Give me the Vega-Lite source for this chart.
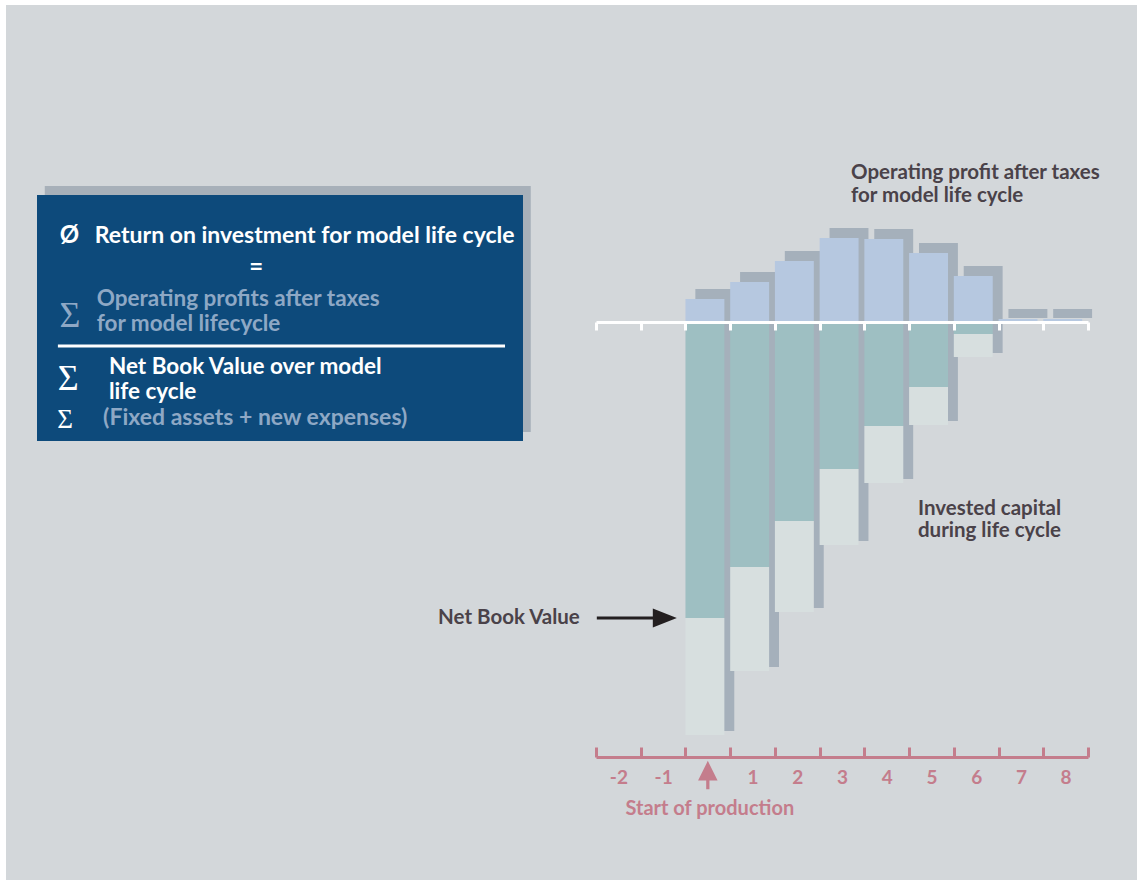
{
"$schema": "https://vega.github.io/schema/vega-lite/v6.json",
"width": 1131, "height": 875,
"autosize": {"type": "none"},
"padding": {"left": 6, "top": 5, "right": 5, "bottom": 3},
"background": "#ffffff",
"view": {"fill": "#d3d7da", "stroke": null},
"config": {"font": "Lato"},
"layer": [
 {
  "data": {"values": [
    {"year": "0", "profit": 2.3, "nbv": -29.6, "gross": -41.3},
    {"year": "1", "profit": 4.0, "nbv": -24.5, "gross": -34.9},
    {"year": "2", "profit": 6.1, "nbv": -19.9, "gross": -29.0},
    {"year": "3", "profit": 8.4, "nbv": -14.7, "gross": -22.3},
    {"year": "4", "profit": 8.3, "nbv": -10.4, "gross": -16.1},
    {"year": "5", "profit": 6.9, "nbv": -6.5, "gross": -10.3},
    {"year": "6", "profit": 4.6, "nbv": -1.2, "gross": -3.5},
    {"year": "7", "profit": 0.3, "nbv": 0, "gross": 0},
    {"year": "8", "profit": 0.3, "nbv": 0, "gross": 0}
  ]},
  "layer": [
   {"mark": {"type": "bar", "fill": "#a5b0bb", "width": {"band": 0.87}, "xOffset": 7, "yOffset": -10, "y2Offset": -4},
    "encoding": {
      "x": {"field": "year", "type": "ordinal", "axis": null,
            "scale": {"domain": ["-2","-1","0","1","2","3","4","5","6","7","8"], "range": [590, 1082], "paddingInner": 0, "paddingOuter": 0}},
      "y": {"field": "profit", "type": "quantitative", "axis": null,
            "scale": {"domain": [-55.8, 31.7], "nice": false, "zero": false}},
      "y2": {"field": "gross"}}},
   {"mark": {"type": "bar", "fill": "#d7dfdf", "width": {"band": 0.87}, "xOffset": -2.9},
    "encoding": {
      "x": {"field": "year", "type": "ordinal",
            "axis": {"orient": "bottom", "offset": -123, "domainColor": "#c47d8c", "domainWidth": 3, "ticks": false, "tickBand": "extent",
                     "labelColor": "#c47d8c", "labelFont": "Lato", "labelFontSize": 19, "labelFontWeight": "bold", "labelPadding": 11, "labelAngle": 0,
                     "labelExpr": "datum.value === '0' ? '' : datum.label", "title": null, "zindex": 1}},
      "y": {"field": "nbv", "type": "quantitative", "axis": null},
      "y2": {"field": "gross"}}},
   {"mark": {"type": "bar", "fill": "#9ebfc2", "width": {"band": 0.87}, "xOffset": -2.9},
    "encoding": {
      "x": {"field": "year", "type": "ordinal",
            "axis": {"orient": "top", "offset": -752, "domain": false, "labels": false, "ticks": true, "tickBand": "extent",
                     "tickColor": "#c47d8c", "tickWidth": 3, "tickSize": 10, "title": null, "zindex": 1}},
      "y": {"field": "nbv", "type": "quantitative", "axis": null},
      "y2": {"datum": 0}}},
   {"mark": {"type": "bar", "fill": "#b6c8e0", "width": {"band": 0.87}, "xOffset": -2.9},
    "encoding": {
      "x": {"field": "year", "type": "ordinal",
            "axis": {"orient": "bottom", "offset": -558, "domainColor": "#ffffff", "domainWidth": 3, "tickColor": "#ffffff", "tickWidth": 3,
                     "tickSize": 8, "tickBand": "extent", "labels": false, "title": null, "zindex": 2}},
      "y": {"field": "profit", "type": "quantitative", "axis": null},
      "y2": {"datum": 0}}},
   {"transform": [{"filter": "datum.year === '0'"}],
    "mark": {"type": "point", "shape": "M-1,-0.04 L0.4,-0.04 L0.4,-0.24 L1,0 L0.4,0.24 L0.4,0.04 L-1,0.04 Z", "size": 6400,
             "filled": true, "fill": "#231f20", "opacity": 1, "strokeWidth": 0, "xOffset": -71},
    "encoding": {"x": {"field": "year", "type": "ordinal", "axis": null}, "y": {"field": "nbv", "type": "quantitative", "axis": null}}},
   {"transform": [{"filter": "datum.year === '0'"}],
    "mark": {"type": "text", "text": "Net Book Value", "align": "right", "baseline": "middle", "dx": -128, "fontSize": 20.5, "fontWeight": "bold", "fill": "#4a4249"},
    "encoding": {"x": {"field": "year", "type": "ordinal", "axis": null}, "y": {"field": "nbv", "type": "quantitative", "axis": null}}},
   {"data": {"values": [{"note": "Operating profit after taxes\nfor model life cycle", "year": "3"}]},
    "mark": {"type": "text", "align": "left", "baseline": "alphabetic", "dx": 9, "fontSize": 20.5, "fontWeight": "bold", "fill": "#4a4249", "lineBreak": "\n", "lineHeight": 23},
    "encoding": {"x": {"field": "year", "type": "ordinal", "axis": null}, "y": {"datum": 14.3, "type": "quantitative", "axis": null}, "text": {"field": "note"}}},
   {"data": {"values": [{"note": "Invested capital\nduring life cycle", "year": "5"}]},
    "mark": {"type": "text", "align": "left", "baseline": "alphabetic", "dx": -13.5, "fontSize": 20.5, "fontWeight": "bold", "fill": "#4a4249", "lineBreak": "\n", "lineHeight": 22},
    "encoding": {"x": {"field": "year", "type": "ordinal", "axis": null}, "y": {"datum": -19.3, "type": "quantitative", "axis": null}, "text": {"field": "note"}}},
   {"data": {"values": [{"event": "Start of production", "year": "0"}]},
    "mark": {"type": "point", "shape": "M0,-1 L0.69,0.385 L0.115,0.385 L0.115,1 L-0.115,1 L-0.115,0.385 L-0.69,0.385 Z", "size": 800,
             "filled": true, "fill": "#c47d8c", "opacity": 1, "strokeWidth": 0},
    "encoding": {"x": {"field": "year", "type": "ordinal", "axis": null}, "y": {"datum": -45.3, "type": "quantitative", "axis": null}}},
   {"data": {"values": [{"event": "Start of production", "year": "0"}]},
    "mark": {"type": "text", "align": "center", "baseline": "middle", "dx": 2, "fontSize": 20, "fontWeight": "bold", "fill": "#c47d8c"},
    "encoding": {"x": {"field": "year", "type": "ordinal", "axis": null}, "y": {"datum": -48.7, "type": "quantitative", "axis": null}, "text": {"field": "event"}}}
  ],
  "resolve": {"axis": {"x": "independent"}}
 },
 {
  "data": {"values": [
    {"part": "avg", "text": "Ø"},
    {"part": "title", "text": "Return on investment for model life cycle"},
    {"part": "equals", "text": "="},
    {"part": "sum1", "text": "Σ"},
    {"part": "numerator", "text": "Operating profits after taxes\nfor model lifecycle"},
    {"part": "sum2", "text": "Σ"},
    {"part": "denominator", "text": "Net Book Value over model\nlife cycle"},
    {"part": "sum3", "text": "Σ"},
    {"part": "note", "text": "(Fixed assets + new expenses)"}
  ]},
  "layer": [
   {"data": {"values": [{"part": "box shadow"}]},
    "mark": {"type": "rect", "fill": "#a7b0b9"},
    "encoding": {
      "x": {"datum": 1.6, "type": "quantitative", "axis": null, "scale": {"domain": [0, 100], "range": [31, 517], "nice": false, "zero": false}},
      "x2": {"datum": 101.6},
      "y": {"datum": 3.7, "type": "quantitative", "axis": null, "scale": {"domain": [0, 100], "range": [436, 190], "nice": false, "zero": false}},
      "y2": {"datum": 103.7}}},
   {"data": {"values": [{"part": "box"}]},
    "mark": {"type": "rect", "fill": "#0d4a7b"},
    "encoding": {"x": {"datum": 0, "type": "quantitative", "axis": null}, "x2": {"datum": 100},
                 "y": {"datum": 0, "type": "quantitative", "axis": null}, "y2": {"datum": 100}}},
   {"data": {"values": [{"part": "fraction bar"}]},
    "mark": {"type": "rule", "stroke": "#ffffff", "strokeWidth": 3},
    "encoding": {"x": {"datum": 4.3, "type": "quantitative", "axis": null}, "x2": {"datum": 96.3},
                 "y": {"datum": 38.6, "type": "quantitative", "axis": null}}},
   {"transform": [{"filter": "datum.part === 'avg'"}],
    "mark": {"type": "text", "align": "left", "baseline": "alphabetic", "fontSize": 24, "fontWeight": "bold", "fill": "#ffffff"},
    "encoding": {"x": {"datum": 4.7, "type": "quantitative", "axis": null}, "y": {"datum": 80.5, "type": "quantitative", "axis": null}, "text": {"field": "text"}}},
   {"transform": [{"filter": "datum.part === 'title'"}],
    "mark": {"type": "text", "align": "left", "baseline": "alphabetic", "fontSize": 23, "fontWeight": "bold", "fill": "#ffffff"},
    "encoding": {"x": {"datum": 11.9, "type": "quantitative", "axis": null}, "y": {"datum": 80.5, "type": "quantitative", "axis": null}, "text": {"field": "text"}}},
   {"transform": [{"filter": "datum.part === 'equals'"}],
    "mark": {"type": "text", "align": "center", "baseline": "alphabetic", "fontSize": 24, "fontWeight": "bold", "fill": "#ffffff"},
    "encoding": {"x": {"datum": 45.1, "type": "quantitative", "axis": null}, "y": {"datum": 67.5, "type": "quantitative", "axis": null}, "text": {"field": "text"}}},
   {"transform": [{"filter": "datum.part === 'sum1'"}],
    "mark": {"type": "text", "align": "center", "baseline": "alphabetic", "font": "Liberation Serif", "fontSize": 36, "fill": "#8ea8c5"},
    "encoding": {"x": {"datum": 6.8, "type": "quantitative", "axis": null}, "y": {"datum": 46.3, "type": "quantitative", "axis": null}, "text": {"field": "text"}}},
   {"transform": [{"filter": "datum.part === 'numerator'"}],
    "mark": {"type": "text", "align": "left", "baseline": "alphabetic", "fontSize": 22.5, "fontWeight": "bold", "fill": "#8ea8c5", "lineBreak": "\n", "lineHeight": 25},
    "encoding": {"x": {"datum": 12.3, "type": "quantitative", "axis": null}, "y": {"datum": 54.7, "type": "quantitative", "axis": null}, "text": {"field": "text"}}},
   {"transform": [{"filter": "datum.part === 'sum2'"}],
    "mark": {"type": "text", "align": "center", "baseline": "alphabetic", "font": "Liberation Serif", "fontSize": 36, "fill": "#ffffff"},
    "encoding": {"x": {"datum": 6.4, "type": "quantitative", "axis": null}, "y": {"datum": 20.7, "type": "quantitative", "axis": null}, "text": {"field": "text"}}},
   {"transform": [{"filter": "datum.part === 'denominator'"}],
    "mark": {"type": "text", "align": "left", "baseline": "alphabetic", "fontSize": 22.5, "fontWeight": "bold", "fill": "#ffffff", "lineBreak": "\n", "lineHeight": 25},
    "encoding": {"x": {"datum": 14.8, "type": "quantitative", "axis": null}, "y": {"datum": 27.4, "type": "quantitative", "axis": null}, "text": {"field": "text"}}},
   {"transform": [{"filter": "datum.part === 'sum3'"}],
    "mark": {"type": "text", "align": "center", "baseline": "alphabetic", "font": "Liberation Serif", "fontSize": 27, "fill": "#ffffff"},
    "encoding": {"x": {"datum": 5.8, "type": "quantitative", "axis": null}, "y": {"datum": 5.3, "type": "quantitative", "axis": null}, "text": {"field": "text"}}},
   {"transform": [{"filter": "datum.part === 'note'"}],
    "mark": {"type": "text", "align": "left", "baseline": "alphabetic", "fontSize": 23, "fontWeight": "bold", "fill": "#8ea8c5"},
    "encoding": {"x": {"datum": 13.6, "type": "quantitative", "axis": null}, "y": {"datum": 6.5, "type": "quantitative", "axis": null}, "text": {"field": "text"}}}
  ]
 }
],
"resolve": {"scale": {"x": "independent", "y": "independent"}}
}
